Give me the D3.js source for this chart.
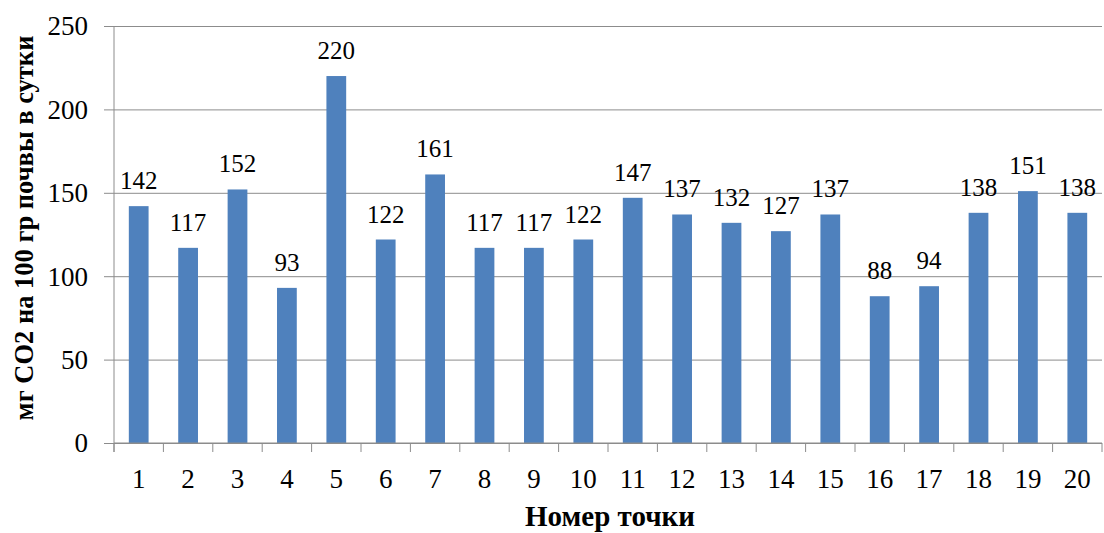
<!DOCTYPE html>
<html>
<head>
<meta charset="utf-8">
<script src="https://cdn.jsdelivr.net/npm/d3@7/dist/d3.min.js"></script>
<style>
  html, body { margin: 0; padding: 0; background: #fff; }
  svg { display: block; }
</style>
</head>
<body>
<svg id="chart" width="1104" height="533"></svg>
<script>
// Point numbers along the x axis
const points = ["1","2","3","4","5","6","7","8","9","10","11","12","13","14","15","16","17","18","19","20"];
// CO2 release, mg per 100 g of soil per day
const co2 = [142, 117, 152, 93, 220, 122, 161, 117, 117, 122, 147, 137, 132, 127, 137, 88, 94, 138, 151, 138];
// Value axis ticks
const yTicks = [0, 50, 100, 150, 200, 250];

const yTitle = "мг CO2 на 100 гр почвы в сутки";
const xTitle = "Номер точки";

const FONT = "'Liberation Serif', 'Times New Roman', 'DejaVu Serif', serif";
const svg = d3.select("#chart").attr("font-family", FONT);
const plotL = 114, plotR = 1102, plotT = 26, plotB = 443;
const gridColor = "#8c8c8c";

const y = d3.scaleLinear().domain([0, 250]).range([plotB, plotT]);
// slots: one per point, used for tick boundaries and label centres
const slot = d3.scaleBand().domain(points).range([plotL, plotR]).padding(0);
// bars: narrower than their slot
const bar = d3.scaleBand().domain(points).range([plotL, plotR]).paddingInner(0.6).paddingOuter(0.3);

// horizontal gridlines with short ticks to the left of the axis
svg.append("g")
  .attr("transform", `translate(${plotL},0)`)
  .call(d3.axisLeft(y).tickValues(yTicks).tickSizeInner(-(plotR - plotL)).tickSizeOuter(0).tickFormat(""))
  .call(g => g.select(".domain").remove())
  .call(g => g.selectAll(".tick line").attr("stroke", gridColor).attr("stroke-width", 1).attr("x1", -10));

// y tick labels
svg.append("g").selectAll("text")
  .data(yTicks)
  .join("text")
  .attr("font-family", FONT)
  .attr("x", 88)
  .attr("y", d => y(d))
  .attr("dy", "0.35em")
  .attr("text-anchor", "end")
  .attr("font-size", 27)
  .text(d => d);

// bars
svg.append("g").selectAll("rect")
  .data(co2)
  .join("rect")
  .attr("x", (d, i) => bar(points[i]))
  .attr("width", bar.bandwidth())
  .attr("y", d => y(d))
  .attr("height", d => y(0) - y(d))
  .attr("fill", "#4f81bd");

// value labels above bars
svg.append("g").selectAll("text")
  .data(co2)
  .join("text")
  .attr("font-family", FONT)
  .attr("x", (d, i) => bar(points[i]) + bar.bandwidth() / 2)
  .attr("y", d => y(d) - 17)
  .attr("text-anchor", "middle")
  .attr("font-size", 25)
  .text(d => d);

// vertical axis line
svg.append("line")
  .attr("x1", plotL).attr("x2", plotL)
  .attr("y1", plotT).attr("y2", plotB + 9)
  .attr("stroke", gridColor).attr("stroke-width", 1);

// category axis: line, boundary ticks, labels
const xAxis = svg.append("g");
xAxis.append("line")
  .attr("x1", plotL).attr("x2", plotR)
  .attr("y1", plotB).attr("y2", plotB)
  .attr("stroke", gridColor).attr("stroke-width", 1);
xAxis.selectAll("line.tk")
  .data(points.concat(["end"]))
  .join("line")
  .attr("class", "tk")
  .attr("x1", (d, i) => plotL + i * slot.step())
  .attr("x2", (d, i) => plotL + i * slot.step())
  .attr("y1", plotB).attr("y2", plotB + 9)
  .attr("stroke", gridColor).attr("stroke-width", 1);
xAxis.selectAll("text")
  .data(points)
  .join("text")
  .attr("font-family", FONT)
  .attr("x", d => slot(d) + slot.bandwidth() / 2)
  .attr("y", 488)
  .attr("text-anchor", "middle")
  .attr("font-size", 27)
  .text(d => d);

// axis titles
svg.append("text")
  .attr("font-family", FONT)
  .attr("transform", `translate(33,228) rotate(-90)`)
  .attr("text-anchor", "middle")
  .attr("font-size", 26.5)
  .attr("font-weight", "bold")
  .text(yTitle);

svg.append("text")
  .attr("font-family", FONT)
  .attr("x", 610)
  .attr("y", 526)
  .attr("text-anchor", "middle")
  .attr("font-size", 29)
  .attr("font-weight", "bold")
  .text(xTitle);
</script>
</body>
</html>
